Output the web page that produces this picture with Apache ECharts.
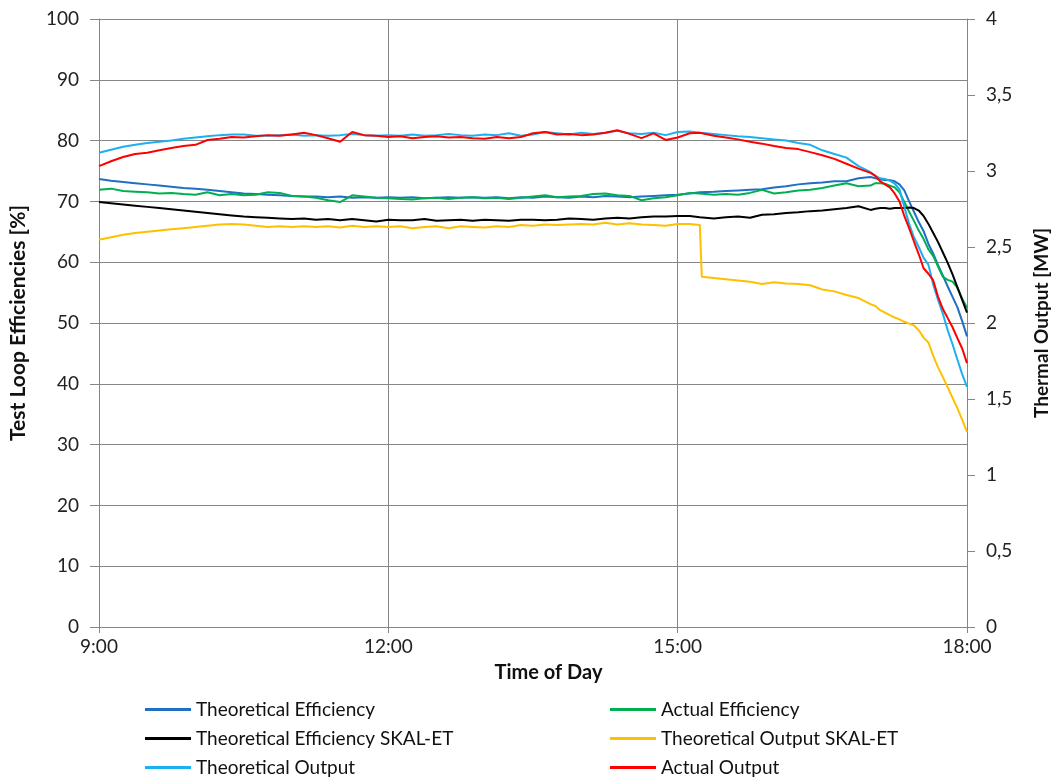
<!DOCTYPE html>
<html>
<head>
<meta charset="utf-8">
<script src="https://cdn.jsdelivr.net/npm/echarts@6/dist/echarts.min.js"></script>
<style>
html,body{margin:0;padding:0;background:#fff;}
#chart{width:1059px;height:781px;}
</style>
</head>
<body>
<div id="chart"></div>
<script>
// Time of day in hours
const times = [
 9, 9.125, 9.25, 9.375, 9.5, 9.625, 9.75, 9.875,
 10, 10.125, 10.25, 10.375, 10.5, 10.625, 10.75, 10.875,
 11, 11.125, 11.25, 11.375, 11.5, 11.625, 11.75, 11.875,
 12, 12.125, 12.25, 12.375, 12.5, 12.625, 12.75, 12.875,
 13, 13.125, 13.25, 13.375, 13.5, 13.625, 13.75, 13.875,
 14, 14.125, 14.25, 14.375, 14.5, 14.625, 14.75, 14.875,
 15, 15.125, 15.23, 15.25, 15.375, 15.5, 15.625, 15.75, 15.875,
 16, 16.125, 16.25, 16.375, 16.5, 16.625, 16.75, 16.875,
 17, 17.05, 17.1, 17.15, 17.2, 17.25, 17.3, 17.35, 17.4, 17.45, 17.5,
 17.55, 17.6, 17.65, 17.7, 17.75, 17.8, 17.85, 17.9, 17.95, 18
];
// Efficiencies [%] (left axis)
const theoreticalEfficiency = [
 73.7, 73.4, 73.2, 73.0, 72.8, 72.6, 72.4, 72.2,
 72.1, 71.9, 71.7, 71.5, 71.3, 71.2, 71.1, 71.0,
 70.9, 70.8, 70.8, 70.7, 70.8, 70.6, 70.7, 70.6,
 70.7, 70.6, 70.7, 70.5, 70.6, 70.7, 70.6, 70.7,
 70.6, 70.7, 70.5, 70.7, 70.6, 70.8, 70.7, 70.6,
 70.8, 70.7, 70.9, 70.8, 70.7, 70.8, 70.9, 71.0,
 71.1, 71.3, 71.5, 71.5, 71.6, 71.7, 71.8, 71.9, 72.0,
 72.3, 72.5, 72.8, 73.0, 73.1, 73.3, 73.3, 73.8,
 74.0, 73.8, 73.6, 73.5, 73.5, 73.3, 72.8, 71.8, 70.0, 68.3, 66.6,
 65.1, 63.0, 61.4, 59.5, 57.8, 56.0, 54.3, 52.6, 50.3, 47.8
];
const actualEfficiency = [
 71.9, 72.1, 71.7, 71.6, 71.5, 71.3, 71.4, 71.2,
 71.1, 71.5, 71.0, 71.2, 71.0, 71.1, 71.5, 71.4,
 70.9, 70.8, 70.6, 70.2, 69.9, 71.0, 70.8, 70.6,
 70.5, 70.4, 70.3, 70.5, 70.6, 70.4, 70.6, 70.7,
 70.5, 70.6, 70.4, 70.6, 70.8, 71.0, 70.7, 70.8,
 70.9, 71.2, 71.3, 71.0, 70.9, 70.2, 70.5, 70.7,
 71.0, 71.4, 71.3, 71.3, 71.1, 71.2, 71.1, 71.4, 71.9,
 71.3, 71.5, 71.8, 71.9, 72.2, 72.6, 73.0, 72.5,
 72.6, 73.0, 73.0, 72.9, 72.6, 72.3, 71.5, 69.9, 68.3, 66.8, 65.2,
 63.8, 62.1, 61.0, 59.3, 57.6, 57.1, 56.8, 55.8, 54.0, 52.5
];
const theoreticalEfficiencySkal = [
 69.9, 69.7, 69.5, 69.3, 69.1, 68.9, 68.7, 68.5,
 68.3, 68.1, 67.9, 67.7, 67.5, 67.4, 67.3, 67.2,
 67.1, 67.2, 67.0, 67.1, 66.9, 67.1, 66.9, 66.7,
 67.0, 66.9, 66.9, 67.1, 66.8, 66.9, 67.0, 66.8,
 67.0, 66.9, 66.8, 67.0, 67.0, 66.9, 67.0, 67.2,
 67.1, 67.0, 67.2, 67.3, 67.2, 67.4, 67.5, 67.5,
 67.6, 67.6, 67.4, 67.3, 67.2, 67.4, 67.5, 67.3, 67.8,
 67.9, 68.1, 68.2, 68.4, 68.5, 68.7, 68.9, 69.2,
 68.6, 68.8, 68.9, 68.9, 68.8, 68.9, 68.9, 68.9, 69.0, 68.9, 68.5,
 67.6, 66.3, 64.8, 63.3, 61.6, 59.9, 58.0, 55.9, 53.8, 51.7
];
// Thermal outputs [MW] (right axis)
const theoreticalOutputSkal = [
 2.548, 2.564, 2.58, 2.592, 2.6, 2.608, 2.616, 2.624,
 2.632, 2.64, 2.648, 2.652, 2.648, 2.64, 2.632, 2.636,
 2.632, 2.636, 2.632, 2.636, 2.628, 2.64, 2.632, 2.636,
 2.632, 2.636, 2.624, 2.632, 2.636, 2.624, 2.636, 2.632,
 2.628, 2.636, 2.632, 2.644, 2.64, 2.648, 2.644, 2.648,
 2.652, 2.648, 2.66, 2.648, 2.656, 2.648, 2.644, 2.64,
 2.652, 2.652, 2.644, 2.304, 2.296, 2.288, 2.28, 2.272, 2.256,
 2.268, 2.26, 2.256, 2.248, 2.22, 2.208, 2.184, 2.164,
 2.124, 2.112, 2.084, 2.068, 2.052, 2.036, 2.024, 2.008, 1.996, 1.984, 1.952,
 1.904, 1.872, 1.784, 1.708, 1.644, 1.576, 1.508, 1.44, 1.364, 1.284
];
const theoreticalOutput = [
 3.12, 3.14, 3.16, 3.172, 3.184, 3.192, 3.2, 3.212,
 3.22, 3.228, 3.236, 3.24, 3.24, 3.232, 3.232, 3.236,
 3.24, 3.232, 3.236, 3.232, 3.236, 3.244, 3.236, 3.232,
 3.236, 3.232, 3.24, 3.232, 3.236, 3.244, 3.236, 3.232,
 3.24, 3.236, 3.248, 3.232, 3.24, 3.256, 3.248, 3.24,
 3.252, 3.244, 3.252, 3.264, 3.248, 3.244, 3.252, 3.236,
 3.256, 3.26, 3.252, 3.248, 3.244, 3.236, 3.228, 3.224, 3.216,
 3.208, 3.2, 3.184, 3.172, 3.136, 3.112, 3.088, 3.032,
 2.992, 2.968, 2.952, 2.948, 2.936, 2.916, 2.88, 2.764, 2.652, 2.564, 2.5,
 2.428, 2.384, 2.252, 2.152, 2.06, 1.952, 1.86, 1.76, 1.664, 1.58
];
const actualOutput = [
 3.032, 3.064, 3.092, 3.112, 3.12, 3.136, 3.152, 3.164,
 3.172, 3.204, 3.212, 3.224, 3.22, 3.228, 3.236, 3.232,
 3.24, 3.252, 3.236, 3.216, 3.192, 3.256, 3.236, 3.232,
 3.224, 3.228, 3.216, 3.224, 3.228, 3.22, 3.224, 3.216,
 3.212, 3.224, 3.216, 3.224, 3.248, 3.256, 3.24, 3.244,
 3.236, 3.24, 3.252, 3.268, 3.244, 3.216, 3.248, 3.204,
 3.22, 3.248, 3.252, 3.248, 3.232, 3.22, 3.208, 3.192, 3.18,
 3.164, 3.152, 3.144, 3.124, 3.104, 3.08, 3.048, 3.016,
 2.988, 2.968, 2.932, 2.912, 2.892, 2.852, 2.8, 2.704, 2.624, 2.536, 2.452,
 2.36, 2.324, 2.28, 2.172, 2.092, 2.032, 1.972, 1.9, 1.832, 1.736
];
const xTicks = { min: 9, max: 18, interval: 3 };
const leftTicks = { min: 0, max: 100, interval: 10 };
const rightTicks = { min: 0, max: 4, interval: 0.5 };

const FONT = 'Lato, "Open Sans", sans-serif';
const GRID = '#868686';
const zip = vals => times.map((t, i) => [t, vals[i]]);

const seriesDefs = [
  { name: 'Theoretical Efficiency', data: theoreticalEfficiency, color: '#1F6FC2', y: 0 },
  { name: 'Actual Efficiency', data: actualEfficiency, color: '#00B050', y: 0 },
  { name: 'Theoretical Efficiency SKAL-ET', data: theoreticalEfficiencySkal, color: '#000000', y: 0 },
  { name: 'Theoretical Output SKAL-ET', data: theoreticalOutputSkal, color: '#FFC000', y: 1 },
  { name: 'Theoretical Output', data: theoreticalOutput, color: '#1CB0F0', y: 1 },
  { name: 'Actual Output', data: actualOutput, color: '#FF0000', y: 1 }
];

const chart = echarts.init(document.getElementById('chart'), null, { renderer: 'canvas' });
const legendCommon = {
  orient: 'vertical', top: 700, height: 81, padding: 0, itemGap: 10, itemWidth: 46, itemHeight: 3,
  icon: 'rect', textStyle: { fontFamily: FONT, fontSize: 19, lineHeight: 18, color: '#111' }
};
chart.setOption({
  animation: false,
  backgroundColor: '#fff',
  textStyle: { fontFamily: FONT },
  grid: { left: 97, right: 89, top: 19, bottom: 154, containLabel: false },
  legend: [
    Object.assign({ left: 145, data: ['Theoretical Efficiency', 'Theoretical Efficiency SKAL-ET', 'Theoretical Output'] }, legendCommon),
    Object.assign({ left: 610, data: ['Actual Efficiency', 'Theoretical Output SKAL-ET', 'Actual Output'] }, legendCommon)
  ],
  xAxis: {
    type: 'value', min: xTicks.min, max: xTicks.max, interval: xTicks.interval,
    name: 'Time of Day', nameLocation: 'middle', nameGap: 36,
    nameTextStyle: { fontFamily: FONT, fontSize: 20, fontWeight: 'bold', color: '#111', padding: [0, 0, 0, 31] },
    axisLine: { show: true, onZero: false, lineStyle: { color: GRID, width: 1 } },
    axisTick: { show: true, length: 6, lineStyle: { color: GRID } },
    axisLabel: { fontFamily: FONT, fontSize: 19, color: '#222', margin: 10, formatter: v => v + ':00' },
    splitLine: { show: true, lineStyle: { color: GRID, width: 1 } }
  },
  yAxis: [
    {
      type: 'value', min: leftTicks.min, max: leftTicks.max, interval: leftTicks.interval,
      name: 'Test Loop Efficiencies [%]', nameLocation: 'middle', nameGap: 70,
      nameTextStyle: { fontFamily: FONT, fontSize: 21, fontWeight: 'bold', color: '#111' },
      axisLine: { show: true, lineStyle: { color: GRID, width: 1 } },
      axisTick: { show: true, length: 9, lineStyle: { color: GRID } },
      axisLabel: { fontFamily: FONT, fontSize: 19, color: '#222', margin: 20 },
      splitLine: { show: true, lineStyle: { color: GRID, width: 1 } }
    },
    {
      type: 'value', position: 'right', min: rightTicks.min, max: rightTicks.max, interval: rightTicks.interval,
      name: 'Thermal Output [MW]', nameLocation: 'middle', nameGap: 65, nameRotate: 90,
      nameTextStyle: { fontFamily: FONT, fontSize: 19, fontWeight: 'bold', color: '#111' },
      axisLine: { show: true, lineStyle: { color: GRID, width: 1 } },
      axisTick: { show: true, length: 8, lineStyle: { color: GRID } },
      axisLabel: { fontFamily: FONT, fontSize: 19, color: '#222', margin: 19, formatter: v => String(v).replace('.', ',') },
      splitLine: { show: false }
    }
  ],
  series: seriesDefs.map(s => ({
    name: s.name, type: 'line', yAxisIndex: s.y, data: zip(s.data),
    showSymbol: false, symbol: 'none', smooth: false,
    lineStyle: { color: s.color, width: 2 }, itemStyle: { color: s.color },
    emphasis: { disabled: true }
  }))
});
</script>
</body>
</html>
